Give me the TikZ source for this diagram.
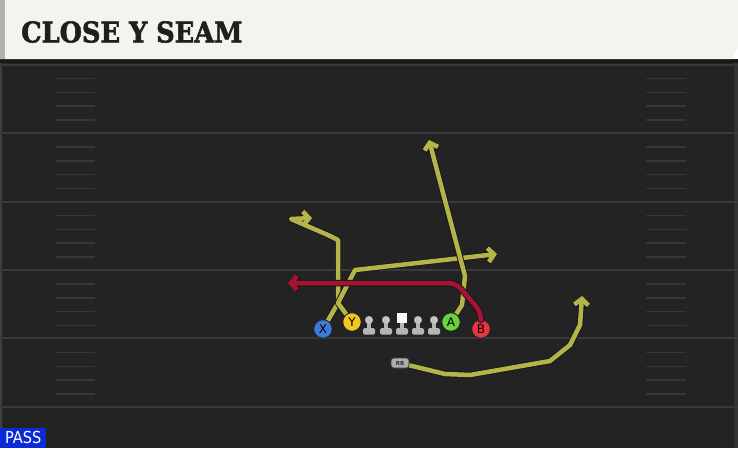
\documentclass[tikz,border=0pt]{standalone}
\usepackage{fontspec}
\setsansfont{DejaVu Sans}
\newfontfamily\titlefont[FakeBold=2]{DejaVu Serif Bold}
\usetikzlibrary{arrows.meta}

\definecolor{fieldgray}{HTML}{232323}
\definecolor{headcream}{HTML}{F5F3EE}
\definecolor{yardgray}{HTML}{3A3A3A}
\definecolor{hashgray}{HTML}{373737}
\definecolor{routeyellow}{HTML}{B5B448}
\definecolor{routered}{HTML}{AA1234}
\definecolor{xblue}{HTML}{3C7BDB}
\definecolor{yyellow}{HTML}{F3C623}
\definecolor{agreen}{HTML}{6CD13E}
\definecolor{bred}{HTML}{E8363F}
\definecolor{passblue}{HTML}{0B2BD6}
\definecolor{olgray}{HTML}{B4B4B4}

\tikzset{
	route/.style={line width=4.5pt, line join=round, draw=routeyellow,
		-{Straight Barb[length=6pt,width=14pt]},
		preaction={draw=black!90, line width=6.5pt, line join=round}},
	player/.style={circle, minimum size=18.5pt, inner sep=0pt, draw=black!85,
		line width=0.9pt, font=\sffamily\fontsize{12}{12}\selectfont},
	hash/.style={draw=hashgray, line width=1.5pt},
	yardline/.style={draw=yardgray, line width=2pt},
	lineman/.pic={
		\fill[olgray,rounded corners=1.5pt] (-6,3) rectangle (6,9.5);
		\fill[olgray] (-2.2,-3) rectangle (2.2,4);
		\fill[olgray!80!white] (0,-5) circle (4pt);
	},
	center/.pic={
		\fill[olgray,rounded corners=1.5pt] (-6,3) rectangle (6,9.5);
		\fill[olgray] (-2.2,-3) rectangle (2.2,4);
		\fill[white!95!gray] (-5,-12) rectangle (5,-2);
	}
}

\begin{document}
\begin{tikzpicture}[x=1pt,y=-1pt]
	\useasboundingbox (0,0) rectangle (738,448);

	%field
	\fill[fieldgray] (0,59) rectangle (738,448);
	\fill[black!90] (0,59) rectangle (738,63);
	\fill[black!75] (0,63) rectangle (2,448);
	\fill[black!80] (734,63) rectangle (738,448);

	%yard lines
	\foreach \yl in {65,133,202,270,338,407}
		\draw[yardline] (0,\yl) -- (738,\yl);
	%hashes
	\foreach \yl in {65,133.5,202,270.5,339}{
		\foreach \k in {1,...,4}{
			\draw[hash] (56,{\yl+\k*13.7}) -- (95,{\yl+\k*13.7});
			\draw[hash] (646,{\yl+\k*13.7}) -- (686,{\yl+\k*13.7});
		}
	}

	%header
	\fill[headcream] (0,0) -- (738,0) -- (738,48) -- (732,59) -- (0,59) -- cycle;
	\fill[gray!60] (0,0) rectangle (5,59);
	\node[anchor=west, inner sep=0pt, text=black!88] (title) at (21,32)
		{\scalebox{0.9}[1]{\titlefont\fontsize{28.5}{28.5}\selectfont CLOSE Y SEAM}};

	%line
	\pic at (369,325) {lineman};
	\pic at (386,325) {lineman};
	\pic at (402,325) {center};
	\pic at (418,325) {lineman};
	\pic at (434,325) {lineman};

	%players
	\node[player, fill=xblue] (X) at (323,329) {X};
	\node[player, fill=yyellow] (Y) at (352,322) {Y};
	\node[player, fill=agreen] (A) at (451,322) {A};
	\node[player, fill=bred] (B) at (481,329) {B};
	\node[rounded corners=3pt, fill=gray!65, draw=black!75, line width=0.6pt,
		minimum width=18pt, minimum height=10pt, inner sep=0pt,
		font=\sffamily\bfseries\fontsize{5.5}{5.5}\selectfont, text=black!80] (RB) at (400,363) {RB};

	%routes
	\draw[route] (X) -- (338,303) -- (338,240) -- (328,235) -- (291,219) -- (312,218);
	\draw[route] (Y) -- (338,303) -- (355,270) -- (497,254);
	\draw[route] (A) -- (462,305) -- (465,276) -- (429,140);
	\draw[route, draw=routered, rounded corners=8pt] (B) -- (481,312) -- (456,283) -- (288,283);
	\draw[route] (RB) -- (445,374) -- (470,375) -- (550,361) -- (570,345) -- (580,325) -- (582,296);

	%play type
	\node[anchor=south west, fill=passblue, minimum width=46pt, minimum height=20pt,
		inner sep=0pt, text=white] (pass) at (0,448)
		{\scalebox{0.88}[1]{\sffamily\fontsize{16.5}{16.5}\selectfont PASS}};
\end{tikzpicture}
\end{document}
